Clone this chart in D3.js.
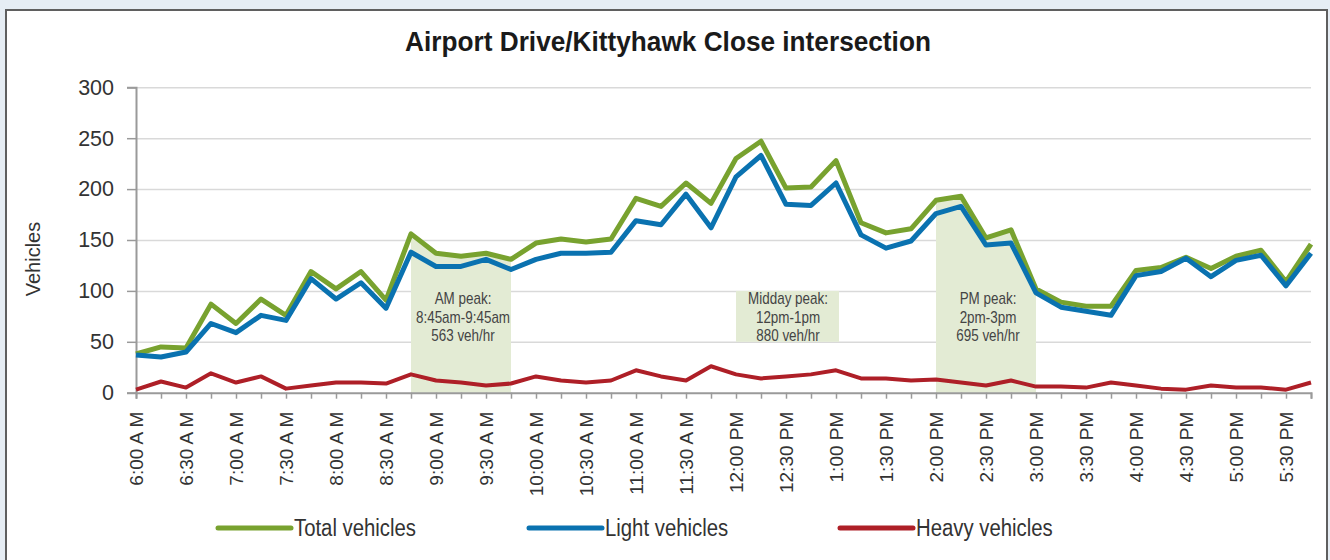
<!DOCTYPE html>
<html>
<head>
<meta charset="utf-8">
<script src="https://cdn.jsdelivr.net/npm/d3@7"></script>
<style>
  html, body { margin: 0; padding: 0; background: #e6edf4; }
  svg { display: block; }
</style>
</head>
<body>
<svg id="chart" width="1330" height="560"></svg>
<script>
// 15-minute counts, 6:00 AM to 5:45 PM
var times = [
  "6:00 A M", "6:15 A M", "6:30 A M", "6:45 A M", "7:00 A M", "7:15 A M",
  "7:30 A M", "7:45 A M", "8:00 A M", "8:15 A M", "8:30 A M", "8:45 A M",
  "9:00 A M", "9:15 A M", "9:30 A M", "9:45 A M", "10:00 A M", "10:15 A M",
  "10:30 A M", "10:45 A M", "11:00 A M", "11:15 A M", "11:30 A M", "11:45 A M",
  "12:00 PM", "12:15 PM", "12:30 PM", "12:45 PM", "1:00 PM", "1:15 PM",
  "1:30 PM", "1:45 PM", "2:00 PM", "2:15 PM", "2:30 PM", "2:45 PM",
  "3:00 PM", "3:15 PM", "3:30 PM", "3:45 PM", "4:00 PM", "4:15 PM",
  "4:30 PM", "4:45 PM", "5:00 PM", "5:15 PM", "5:30 PM", "5:45 PM"
];
var total = [38, 45, 44, 87, 68, 92, 76, 119, 102, 119, 91, 156,
             137, 134, 137, 131, 147, 151, 148, 151, 191, 183, 206, 186,
             230, 247, 201, 202, 228, 167, 157, 161, 189, 193, 152, 160,
             102, 89, 85, 85, 120, 123, 133, 122, 134, 140, 109, 146];
var light = [37, 35, 40, 68, 59, 76, 71, 112, 92, 108, 83, 138,
             124, 124, 131, 121, 131, 137, 137, 138, 169, 165, 195, 162,
             212, 233, 185, 184, 206, 155, 142, 149, 176, 183, 145, 147,
             98, 84, 80, 76, 115, 119, 132, 114, 130, 135, 105, 137];
var heavy = [3, 11, 5, 19, 10, 16, 4, 7, 10, 10, 9, 18,
             12, 10, 7, 9, 16, 12, 10, 12, 22, 16, 12, 26,
             18, 14, 16, 18, 22, 14, 14, 12, 13, 10, 7, 12,
             6, 6, 5, 10, 7, 4, 3, 7, 5, 5, 3, 10];
var yTicks = [0, 50, 100, 150, 200, 250, 300];

var seriesNames = ["Total vehicles", "Light vehicles", "Heavy vehicles"];
var seriesColors = ["#78a22f", "#0a72b0", "#ae1f27"];

// peak periods: first / last slot, and the label text
var peakNames = ["AM peak:", "Midday peak:", "PM peak:"];
var peakRanges = ["8:45am-9:45am", "12pm-1pm", "2pm-3pm"];
var peakRates = ["563 veh/hr", "880 veh/hr", "695 veh/hr"];
var peakStart = ["8:45 A M", "12:00 PM", "2:00 PM"];
var peakEnd = ["9:45 A M", "1:00 PM", "3:00 PM"];

var svg = d3.select("#chart");

// white panel
svg.append("rect")
    .attr("x", 6).attr("y", 10)
    .attr("width", 1321).attr("height", 560)
    .attr("fill", "#fff")
    .attr("stroke", "#5f5f5f")
    .attr("stroke-width", 2);

svg.append("text")
    .attr("transform", "translate(668,51) scale(0.92,1)")
    .attr("text-anchor", "middle")
    .attr("font-family", "Liberation Sans, Arial, sans-serif")
    .attr("font-weight", "bold")
    .attr("font-size", 28.5)
    .attr("fill", "#1a1a1a")
    .text("Airport Drive/Kittyhawk Close intersection");

var x = d3.scalePoint().domain(times).range([136, 1311]);
var y = d3.scaleLinear().domain([0, 300]).range([392.7, 87.3]);

// gridlines
svg.append("g")
    .attr("transform", "translate(136,0)")
    .call(d3.axisLeft(y).tickValues(yTicks.slice(1)).tickSize(-1175).tickFormat(""))
    .call(function (g) {
        g.select(".domain").remove();
        g.selectAll("line").attr("stroke", "#d9d9d9").attr("stroke-width", 1.5);
    });

// shaded peak areas (AM and PM) and the midday label box
var area = d3.area()
    .x(function (d) {return x(times[d])})
    .y0(y(0))
    .y1(function (d) {return y(total[d])});

[0, 2].forEach(function (p) {
    var i0 = times.indexOf(peakStart[p]), i1 = times.indexOf(peakEnd[p]);
    svg.append("path")
        .datum(d3.range(i0, i1 + 1))
        .attr("d", area)
        .attr("fill", "#e3ebd4");
});

svg.append("rect")
    .attr("x", x(peakStart[1]))
    .attr("y", y(100))
    .attr("width", x(peakEnd[1]) - x(peakStart[1]) + 3)
    .attr("height", y(50) - y(100))
    .attr("fill", "#e3ebd4");

// y axis
svg.append("g")
    .attr("transform", "translate(136,0)")
    .call(d3.axisLeft(y).tickValues(yTicks).tickSize(9).tickPadding(13))
    .call(function (g) {
        g.select(".domain").attr("stroke", "#9a9a9a").attr("stroke-width", 2);
        g.selectAll("line").attr("stroke", "#9a9a9a").attr("stroke-width", 1.5);
        g.selectAll("text")
            .attr("font-family", "Liberation Sans, Arial, sans-serif")
            .attr("font-size", 21.5)
            .attr("fill", "#333");
    });

// x axis
svg.append("g")
    .attr("transform", "translate(0," + y(0) + ")")
    .call(d3.axisBottom(x).tickSize(6).tickPadding(0)
        .tickFormat(function (d, i) {return i % 2 ? "" : d}))
    .call(function (g) {
        g.select(".domain").attr("stroke", "#9a9a9a").attr("stroke-width", 2);
        g.selectAll("line").attr("stroke", "#9a9a9a").attr("stroke-width", 1.5);
        g.selectAll("text")
            .attr("font-family", "Liberation Sans, Arial, sans-serif")
            .attr("font-size", 19)
            .attr("fill", "#333")
            .attr("text-anchor", "end")
            .attr("transform", "rotate(-90)")
            .attr("x", -19)
            .attr("y", 0)
            .attr("dy", "0.35em");
    });

svg.append("text")
    .attr("transform", "translate(40,259) rotate(-90)")
    .attr("text-anchor", "middle")
    .attr("font-family", "Liberation Sans, Arial, sans-serif")
    .attr("font-size", 20)
    .attr("fill", "#333")
    .text("Vehicles");

// series lines
var series = [total, light, heavy];
var line = d3.line()
    .x(function (d, i) {return x(times[i])})
    .y(function (d) {return y(d)});

[2, 0, 1].forEach(function (s) {
    svg.append("path")
        .datum(series[s])
        .attr("d", line)
        .attr("fill", "none")
        .attr("stroke", seriesColors[s])
        .attr("stroke-width", s === 2 ? 4 : 5)
        .attr("stroke-linejoin", "round");
});

// peak labels (condensed)
peakNames.forEach(function (name, p) {
    var cx = (x(peakStart[p]) + x(peakEnd[p])) / 2 + 2;
    var lines = [name, peakRanges[p], peakRates[p]];
    svg.append("g")
        .attr("transform", "translate(" + cx + "," + (y(92) + 5) + ") scale(0.84,1)")
        .append("text")
        .attr("text-anchor", "middle")
        .attr("font-family", "Liberation Sans, Arial, sans-serif")
        .attr("font-size", 16)
        .attr("fill", "#444")
        .selectAll("tspan")
        .data(lines)
        .join("tspan")
        .attr("x", 0)
        .attr("y", function (d, i) {return i * 18.5})
        .text(function (d) {return d});
});

// legend
var legendX = [218, 529, 840];
seriesNames.forEach(function (name, s) {
    var g = svg.append("g").attr("transform", "translate(" + legendX[s] + ",528)");
    g.append("line")
        .attr("x1", 0).attr("x2", 73)
        .attr("stroke", seriesColors[s])
        .attr("stroke-width", 5)
        .attr("stroke-linecap", "round");
    g.append("text")
        .attr("transform", "translate(76,8) scale(0.83,1)")
        .attr("font-family", "Liberation Sans, Arial, sans-serif")
        .attr("font-size", 24.5)
        .attr("fill", "#333")
        .text(name);
});
</script>
</body>
</html>
